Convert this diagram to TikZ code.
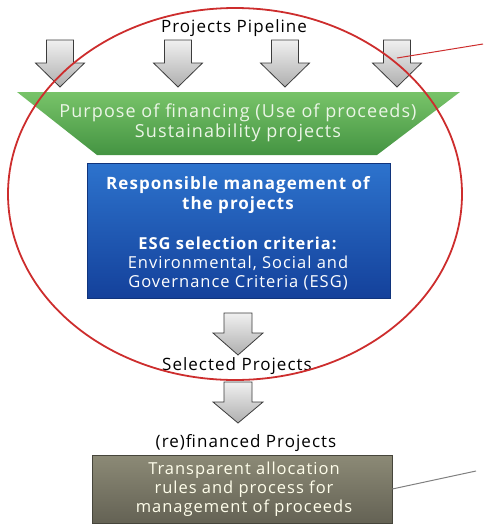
\documentclass[tikz,border=0pt]{standalone}
\usepackage{fontspec}
\setmainfont{Open Sans}[LetterSpace=6]
\usetikzlibrary{shapes.geometric}
\definecolor{ellred}{RGB}{205,45,45}
\definecolor{grntop}{RGB}{120,195,105}
\definecolor{grnbot}{RGB}{68,148,66}
\definecolor{blutop}{RGB}{45,115,205}
\definecolor{blubot}{RGB}{20,65,155}
\definecolor{gratop}{RGB}{140,138,118}
\definecolor{grabot}{RGB}{100,98,84}
\definecolor{arrtop}{RGB}{240,240,240}
\definecolor{arrbot}{RGB}{175,175,175}
\definecolor{arredge}{RGB}{60,60,60}
\definecolor{lighttxt}{RGB}{235,245,230}
\tikzset{
  downarr/.style={draw=arredge, line width=0.8pt, top color=arrtop, bottom color=arrbot, line join=miter},
  lbl/.style={font=\fontsize{17}{20}\selectfont, text=black, inner sep=0pt},
  ellip/.style={draw=ellred, line width=1.8pt},
  pointer/.style={line width=1pt},
}
\newcommand{\dnarrow}[5]{% cx, shaft half-width, top, headbase, tip
  \path[downarr] (#1-#2,#3) -- (#1+#2,#3) -- (#1+#2,#4) -- (#1+#2+11,#4) -- (#1,#5) -- (#1-#2-11,#4) -- (#1-#2,#4) -- cycle;}
\begin{document}
\begin{tikzpicture}[x=1pt,y=-1pt]
\useasboundingbox (0,0) rectangle (483,525);
% top arrows
\dnarrow{60}{13.5}{40}{63}{87}
\dnarrow{178}{13.5}{40}{63}{87}
\dnarrow{285}{13.5}{40}{63}{87}
\dnarrow{397}{13.5}{40}{63}{87}
\node[lbl] (pipe) at (234,28) {Projects Pipeline};
% green funnel
\path[top color=grntop, bottom color=grnbot] (17,92) -- (460,92) -- (377,155) -- (97,155) -- cycle;
\node[font=\fontsize{18}{20}\selectfont, text=lighttxt, align=center, inner sep=0pt] (purpose) at (238,123)
  {Purpose of financing (Use of proceeds)\\Sustainability projects};
% blue box
\node[draw=blubot!80!black, line width=0.6pt, top color=blutop, bottom color=blubot, minimum width=303pt, minimum height=135pt, inner sep=0pt] (resp) at (238.5,230.5) {};
\node[font=\bfseries\fontsize{17}{20}\selectfont, text=white, align=center, inner sep=0pt] (resptxt) at (238,195)
  {Responsible management of\\the projects};
\node[font=\fontsize{16.5}{19}\selectfont, text=white, align=center, inner sep=0pt] (esgtxt) at (238,264)
  {\textbf{ESG selection criteria:}\\Environmental, Social and\\Governance Criteria (ESG)};
% middle arrows
\dnarrow{238}{14}{313}{333}{355}
\node[lbl] (sel) at (237,366) {Selected Projects};
\dnarrow{238}{14}{382}{402}{423}
\node[lbl] (refin) at (246,443) {(re)financed Projects};
% gray box
\node[draw=grabot!70!black, line width=0.6pt, top color=gratop, bottom color=grabot, minimum width=300pt, minimum height=68pt, inner sep=0pt] (alloc) at (242,489) {};
\node[font=\fontsize{16.5}{19}\selectfont, text=white!92!yellow, align=center, inner sep=0pt] (alloctxt) at (244,489)
  {Transparent allocation\\rules and process for\\management of proceeds};
% red ellipse
\draw[ellip] (235,194) ellipse [x radius=227, y radius=186];
\coordinate (rfrom) at (397,58);
\coordinate (rto) at (483,44);
\draw[ellred, pointer] (rfrom) -- (rto);
\coordinate (gto) at (476,471);
\draw[gray, pointer] (alloc.east |- 0,489) -- (gto);
\end{tikzpicture}
\end{document}
